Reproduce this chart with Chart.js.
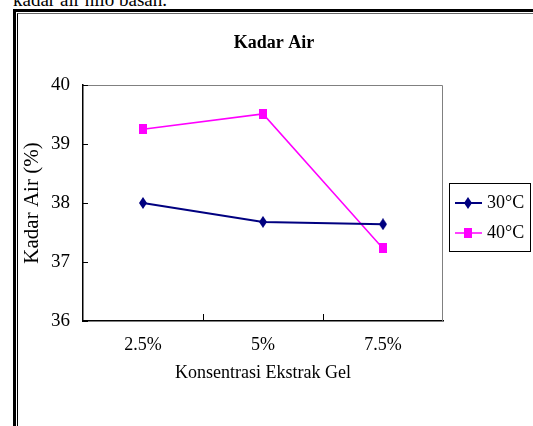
<!DOCTYPE html>
<html lang="id">
<head>
<meta charset="UTF-8">
<title>Kadar Air</title>
<style>
body {
	margin: 0;
	background: #fff;
	width: 533px;
	height: 426px;
	overflow: hidden;
	position: relative;
	font-family: "Liberation Serif", serif;
}

.caption {
	position: absolute;
	left: 13px;
	top: -10px;
	font-size: 19px;
	line-height: 19px;
	white-space: nowrap;
	color: #000;
}

.frameOuter {
	position: absolute;
	left: 13px;
	top: 9px;
	width: 600px;
	height: 600px;
	border-left: 3px solid #000;
	border-top: 3px solid #000;
}

.frameInner {
	position: absolute;
	left: 17px;
	top: 13px;
	width: 600px;
	height: 600px;
	border-left: 1px solid #000;
	border-top: 1px solid #666;
}

#chartKadarAir {
	position: absolute;
	left: 0;
	top: 0;
}
</style>
<script src="https://cdn.jsdelivr.net/npm/chart.js"></script>
</head>
<body>
	<div class="caption">kadar air nilo basah.</div>
	<div class="frameOuter"></div>
	<div class="frameInner"></div>
	<canvas id="chartKadarAir" width="533" height="426"></canvas>
	<script>
	const konsentrasi = ['2.5%', '5%', '7.5%'];
	const suhu30 = [38.0, 37.68, 37.64];
	const suhu40 = [39.25, 39.51, 37.23];
	const seriesLabels = ['30°C', '40°C'];
	const yTicks = [36, 37, 38, 39, 40];

	const serif = 'Liberation Serif, Times New Roman, serif';

	// marker shapes like the Excel ones (narrow diamond, tall square)
	function makeMarker(w, h, color, diamond) {
		const c = document.createElement('canvas');
		c.width = w;
		c.height = h;
		const g = c.getContext('2d');
		g.fillStyle = color;
		if (diamond) {
			g.beginPath();
			g.moveTo(w / 2, 0);
			g.lineTo(w, h / 2);
			g.lineTo(w / 2, h);
			g.lineTo(0, h / 2);
			g.closePath();
			g.fill();
		} else {
			g.fillRect(0, 0, w, h);
		}
		return c;
	}
	const diamond = makeMarker(8, 12, '#000080', true);
	const square = makeMarker(8, 10, '#ff00ff', false);

	const decor = {
		id: 'decor',
		afterDraw(chart) {
			const {ctx, chartArea: a, scales: {x, y}} = chart;
			ctx.save();
			// grey top/right edges of plot
			ctx.strokeStyle = '#808080';
			ctx.lineWidth = 1;
			ctx.beginPath();
			ctx.moveTo(a.left, a.top + 0.5);
			ctx.lineTo(a.right - 0.5, a.top + 0.5);
			ctx.lineTo(a.right - 0.5, a.bottom);
			ctx.stroke();
			// inside tick marks
			ctx.strokeStyle = '#000';
			ctx.beginPath();
			y.ticks.forEach((t, i) => {
				const py = Math.round(y.getPixelForTick(i)) + 0.5;
				ctx.moveTo(a.left, py);
				ctx.lineTo(a.left + 5, py);
			});
			for (let i = 1; i < konsentrasi.length; i++) {
				const px = Math.round((x.getPixelForTick(i - 1) + x.getPixelForTick(i)) / 2) + 0.5;
				ctx.moveTo(px, a.bottom);
				ctx.lineTo(px, a.bottom - 7);
			}
			ctx.stroke();

			// title
			ctx.fillStyle = '#000';
			ctx.font = 'bold 18px ' + serif;
			ctx.textAlign = 'center';
			ctx.textBaseline = 'middle';
			ctx.fillText('Kadar Air', 274, 43);

			// legend
			ctx.strokeStyle = '#000';
			ctx.strokeRect(449.5, 183.5, 81, 68);
			ctx.font = '18px ' + serif;
			ctx.textAlign = 'left';
			chart.data.datasets.forEach((ds, i) => {
				const ly = 203 + i * 30;
				ctx.strokeStyle = ds.borderColor;
				ctx.lineWidth = ds.borderWidth;
				ctx.beginPath();
				ctx.moveTo(455, ly);
				ctx.lineTo(482, ly);
				ctx.stroke();
				const img = ds.pointStyle;
				ctx.drawImage(img, Math.round(468 - img.width / 2), Math.round(ly - img.height / 2));
				ctx.fillText(ds.label, 487, ly);
			});
			ctx.restore();
		}
	};

	new Chart(document.getElementById('chartKadarAir'), {
		type: 'line',
		data: {
			labels: konsentrasi,
			datasets: [
				{
					label: seriesLabels[0],
					data: suhu30,
					borderColor: '#000080',
					backgroundColor: '#000080',
					borderWidth: 2,
					pointStyle: diamond,
					pointRadius: 5,
					tension: 0
				},
				{
					label: seriesLabels[1],
					data: suhu40,
					borderColor: '#ff00ff',
					backgroundColor: '#ff00ff',
					borderWidth: 1.5,
					pointStyle: square,
					pointRadius: 5,
					tension: 0
				}
			]
		},
		options: {
			responsive: false,
			animation: false,
			layout: {
				padding: {left: 20, right: 90, top: 85, bottom: 42}
			},
			plugins: {
				legend: {display: false},
				title: {display: false},
				tooltip: {enabled: false}
			},
			scales: {
				x: {
					offset: true,
					afterFit: s => { s.height = 63; },
					grid: {display: true, drawOnChartArea: false, drawTicks: false},
					border: {display: true, color: '#000', width: 1.5},
					ticks: {
						color: '#000',
						padding: 13,
						font: {family: serif, size: 18}
					},
					title: {
						display: true,
						text: 'Konsentrasi Ekstrak Gel',
						color: '#000',
						padding: 0,
						font: {family: serif, size: 18}
					}
				},
				y: {
					min: yTicks[0],
					max: yTicks[yTicks.length - 1],
					afterFit: s => { s.width = 63; },
					afterBuildTicks: s => { s.ticks = yTicks.map(v => ({value: v})); },
					grid: {display: true, drawOnChartArea: false, drawTicks: false},
					border: {display: true, color: '#000', width: 1.5},
					ticks: {
						color: '#000',
						padding: 13,
						font: {family: serif, size: 19}
					},
					title: {
						display: true,
						text: 'Kadar Air (%)',
						color: '#000',
						padding: 0,
						font: {family: serif, size: 21}
					}
				}
			}
		},
		plugins: [decor]
	});
	</script>
</body>
</html>
